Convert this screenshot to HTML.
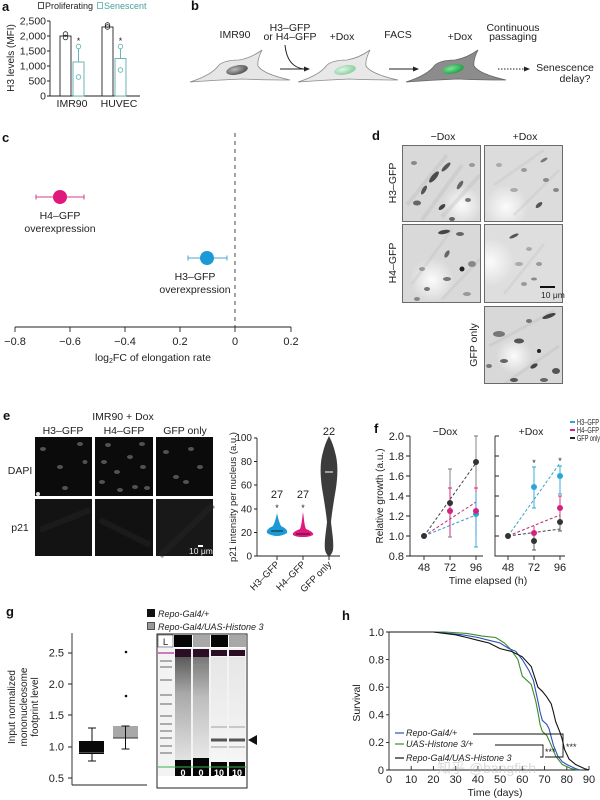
<!DOCTYPE html>
<html><head><meta charset="utf-8">
<style>
html,body{margin:0;padding:0;background:#fff;}
svg{display:block;}
text{font-family:"Liberation Sans","Noto Sans CJK SC",sans-serif;}
</style></head><body>
<svg width="600" height="800" viewBox="0 0 600 800" xmlns="http://www.w3.org/2000/svg">
<defs>
  <marker id="ah" markerWidth="6" markerHeight="6" refX="5" refY="3" orient="auto" markerUnits="userSpaceOnUse">
    <path d="M0,0.5 L6,3 L0,5.5 Z" fill="#222"/>
  </marker>
  <radialGradient id="n1" cx="0.4" cy="0.4" r="0.7"><stop offset="0" stop-color="#bbb"/><stop offset="1" stop-color="#444"/></radialGradient>
  <radialGradient id="n2" cx="0.4" cy="0.4" r="0.7"><stop offset="0" stop-color="#e0f5e5"/><stop offset="1" stop-color="#7fc893"/></radialGradient>
  <radialGradient id="n3" cx="0.4" cy="0.4" r="0.7"><stop offset="0" stop-color="#7fe09a"/><stop offset="1" stop-color="#139a3a"/></radialGradient>
  <radialGradient id="spot"><stop offset="0" stop-color="#fbfbfb"/><stop offset="1" stop-color="#fbfbfb" stop-opacity="0"/></radialGradient>
  <linearGradient id="l1" x1="0" y1="0" x2="0" y2="1"><stop offset="0" stop-color="#5a5a5a"/><stop offset="0.35" stop-color="#a8a8a8"/><stop offset="1" stop-color="#e2e2e2"/></linearGradient>
  <linearGradient id="l2" x1="0" y1="0" x2="0" y2="1"><stop offset="0" stop-color="#777"/><stop offset="0.4" stop-color="#bdbdbd"/><stop offset="1" stop-color="#e8e8e8"/></linearGradient>
  <linearGradient id="l3" x1="0" y1="0" x2="0" y2="1"><stop offset="0" stop-color="#e6e6e6"/><stop offset="1" stop-color="#f6f6f6"/></linearGradient>

  <g id="dA">
    <rect width="80" height="80" fill="#d9d9d9"/>
    <circle cx="60" cy="60" r="20" fill="url(#spot)"/>
    <g stroke="#bcbcbc" stroke-width="4" opacity="0.35"><line x1="5" y1="60" x2="45" y2="10"/><line x1="20" y1="75" x2="60" y2="20"/><line x1="40" y1="72" x2="78" y2="30"/></g>
    <ellipse cx="12" cy="18" rx="3" ry="2" fill="#888"/>
    <ellipse cx="32" cy="32" rx="7" ry="2.5" fill="#4a4a4a" transform="rotate(-50 32 32)"/>
    <ellipse cx="44" cy="22" rx="6" ry="2" fill="#555" transform="rotate(-45 44 22)"/>
    <ellipse cx="22" cy="45" rx="5" ry="2" fill="#555" transform="rotate(-60 22 45)"/>
    <ellipse cx="58" cy="40" rx="5" ry="2" fill="#666" transform="rotate(-55 58 40)"/>
    <ellipse cx="15" cy="58" rx="4" ry="2.5" fill="#666"/>
    <ellipse cx="40" cy="62" rx="4" ry="2" fill="#444" transform="rotate(-40 40 62)"/>
    <ellipse cx="66" cy="55" rx="3" ry="2" fill="#777"/>
    <ellipse cx="70" cy="20" rx="3" ry="2" fill="#999"/>
    <ellipse cx="50" cy="74" rx="3" ry="2" fill="#666"/>
  </g>
  <g id="dB">
    <rect width="80" height="80" fill="#dcdcdc"/>
    <circle cx="22" cy="62" r="22" fill="url(#spot)"/>
    <g stroke="#c4c4c4" stroke-width="3" opacity="0.35"><line x1="30" y1="70" x2="75" y2="25"/><line x1="10" y1="40" x2="60" y2="5"/></g>
    <ellipse cx="60" cy="15" rx="4" ry="1.5" fill="#777" transform="rotate(-30 60 15)"/>
    <ellipse cx="40" cy="25" rx="3" ry="2" fill="#999"/>
    <ellipse cx="62" cy="35" rx="3" ry="2" fill="#888"/>
    <ellipse cx="30" cy="45" rx="4" ry="2" fill="#aaa"/>
    <ellipse cx="55" cy="60" rx="4" ry="2" fill="#555" transform="rotate(-40 55 60)"/>
    <ellipse cx="72" cy="45" rx="3" ry="2" fill="#888"/>
    <ellipse cx="15" cy="20" rx="3" ry="2" fill="#aaa"/>
  </g>
  <g id="dC">
    <rect width="80" height="80" fill="#d9d9d9"/>
    <circle cx="30" cy="56" r="22" fill="url(#spot)"/>
    <g stroke="#c2c2c2" stroke-width="3" opacity="0.35"><line x1="10" y1="60" x2="50" y2="5"/><line x1="40" y1="75" x2="78" y2="35"/></g>
    <ellipse cx="42" cy="8" rx="6" ry="2" fill="#444" transform="rotate(-10 42 8)"/>
    <ellipse cx="58" cy="10" rx="4" ry="2" fill="#666"/>
    <ellipse cx="45" cy="30" rx="4" ry="2" fill="#666" transform="rotate(-60 45 30)"/>
    <ellipse cx="60" cy="45" rx="2.5" ry="2.5" fill="#222"/>
    <ellipse cx="20" cy="45" rx="3" ry="2" fill="#999"/>
    <ellipse cx="45" cy="55" rx="4" ry="2" fill="#777"/>
    <ellipse cx="70" cy="40" rx="4" ry="3" fill="#888"/>
    <ellipse cx="25" cy="65" rx="3" ry="2" fill="#777"/>
    <ellipse cx="65" cy="70" rx="4" ry="2" fill="#999"/>
    <ellipse cx="15" cy="75" rx="3" ry="2" fill="#888"/>
  </g>
  <g id="dD">
    <rect width="80" height="80" fill="#dedede"/>
    <circle cx="6" cy="38" r="24" fill="url(#spot)"/>
    <g stroke="#c6c6c6" stroke-width="3" opacity="0.35"><line x1="20" y1="70" x2="60" y2="20"/></g>
    <ellipse cx="30" cy="12" rx="5" ry="1.5" fill="#555" transform="rotate(-25 30 12)"/>
    <ellipse cx="45" cy="25" rx="3" ry="2" fill="#aaa"/>
    <ellipse cx="55" cy="40" rx="3" ry="2" fill="#999"/>
    <ellipse cx="35" cy="40" rx="4" ry="2" fill="#aaa"/>
    <ellipse cx="40" cy="60" rx="3" ry="2" fill="#999"/>
    <ellipse cx="50" cy="55" rx="3" ry="1.5" fill="#888"/>
  </g>
  <g id="dE">
    <rect width="80" height="80" fill="#d8d8d8"/>
    <circle cx="30" cy="50" r="18" fill="url(#spot)"/>
    <g stroke="#bebebe" stroke-width="3" opacity="0.35"><line x1="5" y1="40" x2="70" y2="5"/><line x1="20" y1="78" x2="75" y2="40"/></g>
    <ellipse cx="65" cy="10" rx="7" ry="2" fill="#444" transform="rotate(-20 65 10)"/>
    <ellipse cx="45" cy="15" rx="3" ry="2" fill="#777"/>
    <ellipse cx="15" cy="28" rx="6" ry="3" fill="#777"/>
    <ellipse cx="35" cy="35" rx="5" ry="2.5" fill="#555"/>
    <ellipse cx="55" cy="45" rx="2" ry="2" fill="#222"/>
    <ellipse cx="20" cy="55" rx="4" ry="2" fill="#666"/>
    <ellipse cx="50" cy="60" rx="4" ry="2" fill="#444" transform="rotate(-30 50 60)"/>
    <ellipse cx="72" cy="65" rx="4" ry="3" fill="#555"/>
    <ellipse cx="30" cy="74" rx="4" ry="2" fill="#555"/>
    <ellipse cx="60" cy="74" rx="4" ry="2" fill="#666"/>
    <ellipse cx="5" cy="60" rx="3" ry="2" fill="#777"/>
  </g>
</defs>

<!-- ================= Panel a ================= -->
<text x="2" y="11" font-size="13" font-weight="bold" fill="#111">a</text>
<rect x="38.5" y="2.5" width="5" height="6" fill="none" stroke="#222" stroke-width="0.8"/>
<text x="45" y="9" font-size="9" fill="#222">Proliferating</text>
<rect x="97.5" y="2.5" width="5" height="6" fill="none" stroke="#5aaeb0" stroke-width="0.8"/>
<text x="104" y="9" font-size="9" fill="#4a9ea0">Senescent</text>
<text transform="translate(14,58) rotate(-90)" font-size="10" text-anchor="middle" fill="#222">H3 levels (MFI)</text>
<g font-size="10.5" fill="#222" text-anchor="end">
  <text x="46" y="24.5">2,500</text><text x="46" y="39.5">2,000</text><text x="46" y="54.5">1,500</text>
  <text x="46" y="69.5">1,000</text><text x="46" y="84.5">500</text><text x="46" y="99.5">0</text>
</g>
<path d="M50,21V96H140 M47,21H50 M47,36H50 M47,51H50 M47,66H50 M47,81H50 M47,96H50" stroke="#222" stroke-width="0.9" fill="none"/>
<rect x="60" y="36" width="11" height="60" fill="#fff" stroke="#222" stroke-width="0.9"/>
<rect x="73" y="62" width="11" height="34" fill="#fff" stroke="#5aaeb0" stroke-width="0.9"/>
<rect x="102" y="27" width="11" height="69" fill="#fff" stroke="#222" stroke-width="0.9"/>
<rect x="115" y="58.5" width="11" height="37.5" fill="#fff" stroke="#5aaeb0" stroke-width="0.9"/>
<path d="M78.5,62V46 M120.5,58.5V46" stroke="#5aaeb0" stroke-width="0.9"/>
<g fill="none" stroke="#222" stroke-width="0.8"><circle cx="65.5" cy="34" r="2.3"/><circle cx="65.5" cy="37.5" r="2.3"/><circle cx="107.5" cy="25" r="2.3"/><circle cx="107.5" cy="27" r="2.3"/></g>
<g fill="#fff" stroke="#5aaeb0" stroke-width="0.8"><circle cx="78.5" cy="46.5" r="2.3"/><circle cx="78.5" cy="77" r="2.3"/><circle cx="120.5" cy="46.5" r="2.3"/><circle cx="120.5" cy="70" r="2.3"/></g>
<g font-size="9" fill="#222" text-anchor="middle"><text x="78.5" y="44">*</text><text x="120.5" y="44">*</text></g>
<g font-size="10.5" fill="#222" text-anchor="middle"><text x="72" y="107">IMR90</text><text x="119" y="107">HUVEC</text></g>

<!-- ================= Panel b ================= -->
<text x="191" y="10" font-size="13" font-weight="bold" fill="#111">b</text>
<g font-size="10.5" fill="#222" text-anchor="middle">
  <text x="235" y="38">IMR90</text>
  <text x="290" y="31">H3–GFP</text><text x="290" y="40">or H4–GFP</text>
  <text x="342" y="40">+Dox</text>
  <text x="398" y="38">FACS</text>
  <text x="460" y="40">+Dox</text>
  <text x="513" y="31">Continuous</text><text x="513" y="40">passaging</text>
  <text x="565" y="71">Senescence</text><text x="575" y="82">delay?</text>
</g>
<path transform="translate(237,70)" d="M-47,12 Q-25,5 -18,-5 Q-12,-10 2,-10 Q14,-12 25,-20 Q20,-10 21,-4 Q26,4 53,10 Q25,10 5,9 Q-20,10 -47,12 Z" fill="#e6e6e6" stroke="#8a8a8a" stroke-width="0.8"/>
<ellipse cx="237" cy="70" rx="11" ry="4.5" transform="rotate(-12 237 70)" fill="url(#n1)"/>
<path transform="translate(345,70)" d="M-47,12 Q-25,5 -18,-5 Q-12,-10 2,-10 Q14,-12 25,-20 Q20,-10 21,-4 Q26,4 53,10 Q25,10 5,9 Q-20,10 -47,12 Z" fill="#e8e8e8" stroke="#8a8a8a" stroke-width="0.8"/>
<ellipse cx="345" cy="70" rx="11" ry="4.5" transform="rotate(-12 345 70)" fill="url(#n2)"/>
<path transform="translate(453,70)" d="M-47,12 Q-25,5 -18,-5 Q-12,-10 2,-10 Q14,-12 25,-20 Q20,-10 21,-4 Q26,4 53,10 Q25,10 5,9 Q-20,10 -47,12 Z" fill="#8c8c8c" stroke="#666" stroke-width="0.8"/>
<ellipse cx="453" cy="69" rx="11" ry="4.5" transform="rotate(-12 453 69)" fill="url(#n3)"/>
<g stroke="#222" stroke-width="1" fill="none">
  <path d="M280,69H309" marker-end="url(#ah)"/>
  <path d="M285,45 Q287,67 304,69"/>
  <path d="M389,69H418" marker-end="url(#ah)"/>
  <path d="M498,69H529" stroke-dasharray="1.5,1.5" marker-end="url(#ah)"/>
</g>

<!-- ================= Panel c ================= -->
<text x="2" y="142" font-size="13" font-weight="bold" fill="#111">c</text>
<path d="M235,133V327" stroke="#444" stroke-width="1" stroke-dasharray="4,4"/>
<path d="M15,327H291 M15,327V332 M70,327V332 M125,327V332 M180,327V332 M235,327V332 M291,327V332" stroke="#222" stroke-width="0.9" fill="none"/>
<g font-size="11" fill="#222" text-anchor="middle">
  <text x="15" y="345">−0.8</text><text x="70" y="345">−0.6</text><text x="125" y="345">−0.4</text>
  <text x="180" y="345">0.2</text><text x="235" y="345">0</text><text x="291" y="345">0.2</text>
</g>
<text x="153" y="361" font-size="10.5" fill="#222" text-anchor="middle">log<tspan font-size="7" dy="2">2</tspan><tspan dy="-2">FC of elongation rate</tspan></text>
<path d="M36,197H84 M36,194.5V199.5 M84,194.5V199.5" stroke="#d63c8a" stroke-width="1"/>
<circle cx="60" cy="197" r="7" fill="#e0197d"/>
<path d="M188,258H227 M188,255.5V260.5 M227,255.5V260.5" stroke="#4aa5cf" stroke-width="1"/>
<circle cx="207" cy="258" r="7" fill="#1c9ad6"/>
<g font-size="10.5" fill="#222" text-anchor="middle">
  <text x="60" y="219">H4–GFP</text><text x="60" y="232">overexpression</text>
  <text x="195" y="280">H3–GFP</text><text x="195" y="293">overexpression</text>
</g>

<!-- ================= Panel d ================= -->
<text x="372" y="140" font-size="13" font-weight="bold" fill="#111">d</text>
<g font-size="10.5" fill="#222" text-anchor="middle">
  <text x="443" y="140">−Dox</text><text x="525" y="140">+Dox</text>
  <text transform="translate(396,183) rotate(-90)">H3–GFP</text>
  <text transform="translate(396,263) rotate(-90)">H4–GFP</text>
  <text transform="translate(477,345) rotate(-90)">GFP only</text>
</g>
<svg x="402" y="145" width="79" height="77"><use href="#dA"/></svg>
<svg x="484" y="145" width="79" height="77"><use href="#dB"/></svg>
<svg x="402" y="224" width="79" height="79"><use href="#dC"/></svg>
<svg x="484" y="224" width="79" height="79"><use href="#dD"/></svg>
<svg x="484" y="306" width="79" height="78"><use href="#dE"/></svg>
<g fill="none" stroke="#6a6a6a" stroke-width="1">
  <rect x="402.5" y="145.5" width="78" height="76"/><rect x="484.5" y="145.5" width="78" height="76"/>
  <rect x="402.5" y="224.5" width="78" height="78"/><rect x="484.5" y="224.5" width="78" height="78"/>
  <rect x="484.5" y="306.5" width="78" height="77"/>
</g>
<rect x="540" y="286" width="15" height="2" fill="#111"/>
<text x="541" y="298" font-size="8.5" fill="#222">10 μm</text>

<!-- ================= Panel e ================= -->
<text x="3" y="420" font-size="13" font-weight="bold" fill="#111">e</text>
<g font-size="10.5" fill="#222" text-anchor="middle">
  <text x="123" y="420">IMR90 + Dox</text>
  <text x="63" y="434">H3–GFP</text><text x="124" y="434">H4–GFP</text><text x="185" y="434">GFP only</text>
  <text x="20" y="474">DAPI</text><text x="20" y="531">p21</text>
</g>
<rect x="35" y="437" width="57" height="59" fill="#0b0b0b"/>
<rect x="95" y="437" width="58" height="59" fill="#0b0b0b"/>
<rect x="156" y="437" width="57" height="59" fill="#0b0b0b"/>
<rect x="35" y="499" width="57" height="57" fill="#131313"/>
<rect x="95" y="499" width="58" height="57" fill="#111"/>
<rect x="156" y="499" width="57" height="57" fill="#181818"/>
<g fill="#6a6a6a" opacity="0.75">
  <ellipse cx="43" cy="449" rx="3" ry="2"/><ellipse cx="60" cy="467" rx="3" ry="2"/><ellipse cx="80" cy="444" rx="3" ry="2"/>
  <ellipse cx="85" cy="462" rx="2.5" ry="2"/><ellipse cx="65" cy="488" rx="3" ry="2"/>
  <ellipse cx="108" cy="445" rx="3" ry="2"/><ellipse cx="104" cy="462" rx="3" ry="2"/><ellipse cx="117" cy="472" rx="3" ry="2"/>
  <ellipse cx="130" cy="457" rx="3" ry="2"/><ellipse cx="143" cy="467" rx="3" ry="2"/><ellipse cx="135" cy="487" rx="3" ry="2"/>
  <ellipse cx="120" cy="490" rx="3" ry="2"/><ellipse cx="147" cy="488" rx="3" ry="2"/><ellipse cx="102" cy="482" rx="3" ry="2"/>
  <ellipse cx="142" cy="444" rx="3" ry="2"/>
  <ellipse cx="166" cy="452" rx="3" ry="2"/><ellipse cx="191" cy="449" rx="3" ry="2"/><ellipse cx="176" cy="477" rx="3" ry="2"/>
  <ellipse cx="186" cy="482" rx="3" ry="2"/><ellipse cx="200" cy="467" rx="3" ry="2"/>
</g>
<circle cx="38" cy="494" r="2" fill="#ddd"/>
<g stroke="#262626" stroke-width="6" opacity="0.45">
  <line x1="160" y1="556" x2="213" y2="505"/><line x1="40" y1="530" x2="90" y2="510"/><line x1="100" y1="520" x2="150" y2="545"/>
</g>
<g stroke="#fff" stroke-width="2"><path d="M198,546H203"/></g>
<text x="189" y="554" font-size="8.5" fill="#eee">10 μm</text>
<text transform="translate(236,497) rotate(-90)" font-size="9.5" text-anchor="middle" fill="#222">p21 intensity per nucleus (a.u.)</text>
<g font-size="10" fill="#222" text-anchor="end">
  <text x="252" y="441">100</text><text x="252" y="465">80</text><text x="252" y="488.5">60</text>
  <text x="252" y="512.5">40</text><text x="252" y="536">20</text><text x="252" y="559.5">0</text>
</g>
<path d="M257,438V556H340 M254,438H257 M254,461.5H257 M254,485H257 M254,509H257 M254,532.5H257 M254,556H257 M277,556V560 M303,556V560 M329,556V560" stroke="#222" stroke-width="0.9" fill="none"/>
<g font-size="9.5" fill="#222" text-anchor="end">
  <text transform="translate(280,565) rotate(-45)">H3–GFP</text>
  <text transform="translate(306,565) rotate(-45)">H4–GFP</text>
  <text transform="translate(332,565) rotate(-45)">GFP only</text>
</g>
<path d="M277,513 C278,518 279,522 281,526 C285,528 288,530 287,533 C284,535 280,536 277,536 C274,536 270,535 267,533 C266,530 269,528 273,526 C275,522 276,518 277,513 Z" fill="#1c9ad6"/>
<path d="M271,531H283" stroke="#111" stroke-width="0.8"/>
<path d="M303,512 C304,518 304,524 306,529 C311,531 314,533 313,535 C309,537 306,537 303,537 C300,537 296,537 293,535 C292,533 295,531 300,529 C302,524 302,518 303,512 Z" fill="#e0197d"/>
<path d="M296,534H310" stroke="#111" stroke-width="0.8"/>
<path d="M329,436 C331,440 333,444 335,452 C338,462 338,474 336,488 C334,500 332,512 331,522 C332,532 334,542 333,550 C332,554 330,556 329,556 C328,556 326,554 325,550 C324,542 326,532 327,522 C326,512 324,500 322,488 C320,474 320,462 323,452 C325,444 327,440 329,436 Z" fill="#3c3c3c"/>
<path d="M325,472H333" stroke="#fff" stroke-width="1"/>
<g font-size="11" fill="#222" text-anchor="middle">
  <text x="277" y="498">27</text><text x="303" y="498">27</text><text x="329" y="435">22</text>
</g>
<g font-size="9" fill="#222" text-anchor="middle"><text x="277" y="511">*</text><text x="303" y="511">*</text></g>

<!-- ================= Panel f ================= -->
<text x="374" y="433" font-size="13" font-weight="bold" fill="#111">f</text>
<g font-size="10.5" fill="#222" text-anchor="middle"><text x="445" y="435">−Dox</text><text x="531" y="435">+Dox</text></g>
<g font-size="8" fill="#222">
  <path d="M570,422H575" stroke="#2aa7d8" stroke-width="2"/><text x="577" y="425" textLength="22" lengthAdjust="spacingAndGlyphs">H3–GFP</text>
  <path d="M570,430H575" stroke="#d4237f" stroke-width="2"/><text x="577" y="433" textLength="22" lengthAdjust="spacingAndGlyphs">H4–GFP</text>
  <path d="M570,438H575" stroke="#222" stroke-width="2"/><text x="577" y="441" textLength="23" lengthAdjust="spacingAndGlyphs">GFP only</text>
</g>
<text transform="translate(383,496) rotate(-90)" font-size="10" text-anchor="middle" fill="#222">Relative growth (a.u.)</text>
<g font-size="11" fill="#222" text-anchor="end">
  <text x="404" y="440">2.0</text><text x="404" y="460">1.8</text><text x="404" y="480">1.6</text><text x="404" y="500">1.4</text>
  <text x="404" y="520">1.2</text><text x="404" y="540">1.0</text><text x="404" y="560">0.8</text>
</g>
<path d="M410,436V556H483 M406,436H410 M406,456H410 M406,476H410 M406,496H410 M406,516H410 M406,536H410 M406,556H410 M424,556V560 M450,556V560 M476,556V560" stroke="#222" stroke-width="0.9" fill="none"/>
<path d="M495,436V556H565 M495,436H499 M495,456H499 M495,476H499 M495,496H499 M495,516H499 M495,536H499 M508,556V560 M534,556V560 M560,556V560" stroke="#222" stroke-width="0.9" fill="none"/>
<g font-size="11" fill="#222" text-anchor="middle">
  <text x="424" y="571">48</text><text x="450" y="571">72</text><text x="476" y="571">96</text>
  <text x="508" y="571">48</text><text x="534" y="571">72</text><text x="560" y="571">96</text>
  <text x="488" y="584" font-size="10.5">Time elapsed (h)</text>
</g>
<g stroke-width="1" stroke-dasharray="3,2" fill="none">
  <path d="M424,536L476,463" stroke="#444"/><path d="M424,536L476,502" stroke="#b8336f"/><path d="M424,536L476,515" stroke="#3aa3c8"/>
  <path d="M508,536L560,463" stroke="#3aa3c8"/><path d="M508,536L560,515" stroke="#b8336f"/><path d="M508,536L560,529" stroke="#444"/>
</g>
<g stroke-width="0.9" fill="none">
  <path d="M450,469V537 M448,469H452 M448,537H452" stroke="#777"/>
  <path d="M450,488V536 M448,488H452" stroke="#d4237f"/>
  <path d="M476,436V488 M474,436H478" stroke="#777"/>
  <path d="M476,488V536 M474,488H478" stroke="#d4237f"/>
  <path d="M476,492V547 M474,547H478" stroke="#2aa7d8"/>
  <path d="M534,467V508 M532,467H536 M532,508H536" stroke="#2aa7d8"/>
  <path d="M534,526V541" stroke="#d4237f"/>
  <path d="M534,534V550 M532,550H536" stroke="#555"/>
  <path d="M560,466V494 M558,466H562 M558,494H562" stroke="#2aa7d8"/>
  <path d="M560,496V516 M558,496H562" stroke="#d4237f"/>
  <path d="M560,516V531 M558,531H562" stroke="#555"/>
</g>
<g>
  <circle cx="424" cy="536" r="3" fill="#333"/>
  <circle cx="450" cy="511" r="3" fill="#d4237f"/>
  <circle cx="450" cy="503" r="3" fill="#333"/>
  <circle cx="476" cy="514" r="3" fill="#2aa7d8"/>
  <circle cx="476" cy="511" r="3" fill="#d4237f"/>
  <circle cx="476" cy="462" r="3" fill="#333"/>
  <circle cx="508" cy="536" r="3" fill="#333"/>
  <circle cx="534" cy="487" r="3" fill="#2aa7d8"/>
  <circle cx="534" cy="533" r="3" fill="#d4237f"/>
  <circle cx="534" cy="541" r="3" fill="#333"/>
  <circle cx="560" cy="476" r="3" fill="#2aa7d8"/>
  <circle cx="560" cy="508" r="3" fill="#d4237f"/>
  <circle cx="560" cy="522" r="3" fill="#333"/>
</g>
<g font-size="9" fill="#222" text-anchor="middle"><text x="534" y="466">*</text><text x="560" y="464">*</text></g>

<!-- ================= Panel g ================= -->
<text x="6" y="616" font-size="13" font-weight="bold" fill="#111">g</text>
<rect x="147" y="609" width="8" height="8" fill="#111"/>
<text x="158" y="617" font-size="9" font-style="italic" fill="#222">Repo-Gal4/+</text>
<rect x="147.5" y="622.5" width="7" height="7" fill="#999" stroke="#333" stroke-width="0.8"/>
<text x="158" y="630" font-size="9" font-style="italic" fill="#222">Repo-Gal4/UAS-Histone 3</text>
<g font-size="10" fill="#222" text-anchor="middle">
  <text transform="translate(15,707) rotate(-90)">Input normalized</text>
  <text transform="translate(27,707) rotate(-90)">mononucleosome</text>
  <text transform="translate(38,707) rotate(-90)">footprint level</text>
</g>
<g font-size="11" fill="#222" text-anchor="end">
  <text x="64" y="656.5">2.5</text><text x="64" y="688">2.0</text><text x="64" y="719">1.5</text>
  <text x="64" y="750.5">1.0</text><text x="64" y="782">0.5</text>
</g>
<path d="M72,633V785 M68,653H72 M68,684H72 M68,715H72 M68,747H72 M68,778H72 M72,785H147" stroke="#222" stroke-width="0.9" fill="none"/>
<path d="M92,728V761 M88,728H96 M88,761H96" stroke="#111" stroke-width="1"/>
<rect x="79" y="741" width="25" height="13" fill="#080808"/>
<path d="M79,752.5H104" stroke="#666" stroke-width="0.8"/>
<rect x="113" y="726" width="25" height="12" fill="#a8a8a8"/>
<path d="M113,738H138" stroke="#333" stroke-width="1"/>
<path d="M125.5,726V749 M121.5,726H129.5 M121.5,749H129.5" stroke="#111" stroke-width="1"/>
<circle cx="126" cy="652" r="1.3" fill="#111"/><circle cx="126" cy="696" r="1.3" fill="#111"/>
<rect x="157" y="634" width="90" height="154" fill="#fff" stroke="#222" stroke-width="1"/>
<rect x="158" y="635" width="15" height="12" fill="#fff" stroke="#444" stroke-width="0.6"/>
<text x="165.5" y="645" font-size="9.5" fill="#222" text-anchor="middle">L</text>
<rect x="174" y="635" width="18" height="12" fill="#050505"/>
<rect x="193" y="635" width="17" height="12" fill="#a8a8a8"/>
<rect x="211" y="635" width="17" height="12" fill="#050505"/>
<rect x="229" y="635" width="17" height="12" fill="#a8a8a8"/>
<rect x="158" y="648" width="88" height="128" fill="#f3f3f3"/>
<rect x="175" y="657" width="16" height="103" fill="url(#l1)"/>
<rect x="193" y="657" width="16" height="101" fill="url(#l2)"/>
<rect x="211" y="657" width="16" height="105" fill="url(#l3)"/>
<rect x="229" y="657" width="16" height="105" fill="url(#l3)"/>
<g fill="#2a0f24"><rect x="175" y="649" width="16" height="8"/><rect x="193" y="649" width="16" height="8"/><rect x="211" y="650" width="16" height="6"/><rect x="229" y="650" width="16" height="6"/></g>
<path d="M158,653H174" stroke="#c050b0" stroke-width="1.5"/>
<g stroke="#808080" stroke-width="1.3">
  <path d="M160,661H172 M160,667H172 M160,680H172 M160,695H172 M160,704H172 M160,716H172 M160,724H172 M160,731H172 M160,738H172 M160,746H172 M160,753H172"/>
</g>
<path d="M193,665H209" stroke="#888" stroke-width="1.5"/>
<g stroke="#bbb" stroke-width="1.5"><path d="M211,727H227 M229,727H245 M211,747H227 M229,747H245"/></g>
<g stroke="#555" stroke-width="3"><path d="M211,740H227 M229,740H245"/></g>
<g fill="#060606"><rect x="175" y="760" width="16" height="16"/><rect x="193" y="758" width="16" height="18"/><rect x="211" y="762" width="16" height="14"/><rect x="229" y="762" width="16" height="14"/></g>
<path d="M158,767H246" stroke="#3cb34a" stroke-width="1"/>
<g font-size="9" fill="#fff" text-anchor="middle" font-weight="bold">
  <text x="183" y="776">0</text><text x="201" y="776">0</text><text x="219" y="776">10</text><text x="237" y="776">10</text>
</g>
<polygon points="248,740 257,735 257,745" fill="#111"/>

<!-- ================= Panel h ================= -->
<text x="342" y="620" font-size="13" font-weight="bold" fill="#111">h</text>
<text transform="translate(360,703) rotate(-90)" font-size="10.5" text-anchor="middle" fill="#222">Survival</text>
<g font-size="11" fill="#222" text-anchor="end">
  <text x="384" y="636">1.0</text><text x="384" y="663.5">0.8</text><text x="384" y="691">0.6</text>
  <text x="384" y="718.5">0.4</text><text x="384" y="746">0.2</text><text x="384" y="774">0</text>
</g>
<path d="M389,632V770H589 M386,632H389 M386,659.6H389 M386,687.2H389 M386,714.8H389 M386,742.4H389 M386,770H389" stroke="#222" stroke-width="0.9" fill="none"/>
<path d="M411.2,770V766 M433.4,770V766 M455.7,770V766 M477.9,770V766 M500.1,770V766 M522.3,770V766 M544.5,770V766 M566.8,770V766 M589,770V766" stroke="#222" stroke-width="0.9"/>
<g font-size="11" fill="#222" text-anchor="middle">
  <text x="389" y="783">0</text><text x="411.2" y="783">10</text><text x="433.4" y="783">20</text><text x="455.7" y="783">30</text>
  <text x="477.9" y="783">40</text><text x="500.1" y="783">50</text><text x="522.3" y="783">60</text><text x="544.5" y="783">70</text>
  <text x="566.8" y="783">80</text><text x="589" y="783">90</text>
  <text x="495" y="796" font-size="10.5">Time (days)</text>
</g>
<polyline fill="none" stroke="#3c8a2e" stroke-width="1.1" points="389,632 444.6,632 466.8,633.4 482.3,636.1 495.7,637.5 504.5,643 511.2,649.9 517.9,659.6 522.3,676.2 526.8,680.3 531.2,684.4 535.7,701 537.9,712 540.1,724.5 542.3,731.4 546.8,735.5 551.2,745.2 555.7,756.2 562.3,764.5 571.2,768.6 577.9,770"/>
<polyline fill="none" stroke="#3050b8" stroke-width="1.1" points="389,632 433.4,632 449,633.4 462.3,634.8 477.9,637.5 489,640.3 500.1,643 509,648.6 515.7,651.3 522.3,659.6 529,670.6 533.4,680.3 537.9,701 540.1,712 542.3,720.3 546.8,724.5 549,728.6 553.4,745.2 557.9,756.2 562.3,761.7 566.8,764.5 575.6,768.6 580.1,770"/>
<polyline fill="none" stroke="#111" stroke-width="1.1" points="389,632 433.4,632 444.6,633.4 455.7,634.8 466.8,637.5 477.9,640.3 489,643 500.1,648.6 511.2,651.3 522.3,656.8 531.2,666.5 535.7,680.3 537.9,687.2 542.3,691.3 546.8,696.9 551.2,703.8 553.4,712 555.7,721.7 560.1,732.7 562.3,739.6 564.5,749.3 569,759 575.6,764.5 584.5,768.6 589,770"/>
<g font-size="9" font-style="italic" fill="#222">
  <path d="M395,733H404" stroke="#3050b8" stroke-width="1.2"/><text x="406" y="736">Repo-Gal4/+</text>
  <path d="M395,744H404" stroke="#3c8a2e" stroke-width="1.2"/><text x="406" y="747">UAS-Histone 3/+</text>
  <path d="M395,758H404" stroke="#111" stroke-width="1.2"/><text x="406" y="761">Repo-Gal4/UAS-Histone 3</text>
</g>
<g stroke="#111" stroke-width="0.9" fill="none">
  <path d="M473,734H563V757H545"/>
  <path d="M495,745H543V757H540"/>
</g>
<g font-size="9" fill="#222"><text x="545" y="755">***</text><text x="566" y="750">***</text></g>
<text x="437" y="773" font-size="14" fill="#bbb" opacity="0.55">知乎 @bangfish</text>
</svg>
</body></html>
